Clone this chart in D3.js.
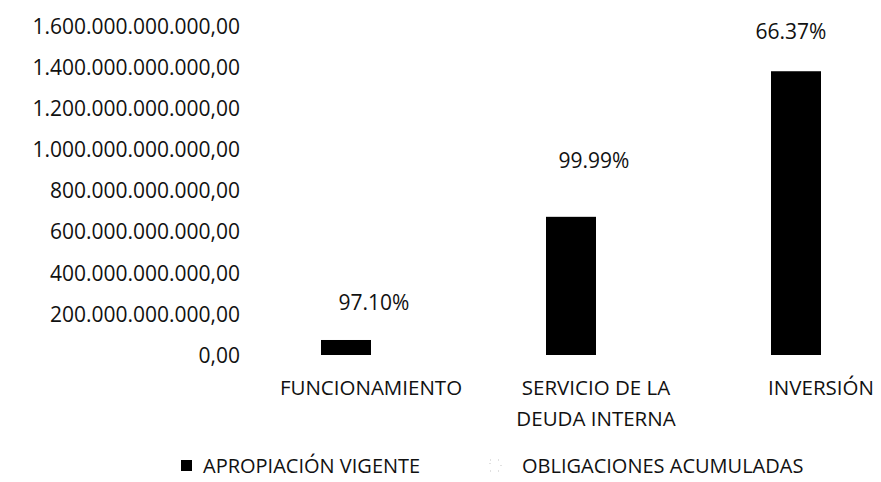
<!DOCTYPE html>
<html>
<head>
<meta charset="utf-8">
<script src="https://cdn.jsdelivr.net/npm/d3@7"></script>
<style>
  body { margin: 0; background: #fff; }
  svg text { font-family: "Open Sans", sans-serif; fill: #111; }
</style>
</head>
<body>
<div id="chart"></div>
<script>
// data
const categories = ["FUNCIONAMIENTO", "SERVICIO DE LA|DEUDA INTERNA", "INVERSIÓN"];
const seriesNames = ["APROPIACIÓN VIGENTE", "OBLIGACIONES ACUMULADAS"];
const apropiacion = [73e9, 672e9, 1380e9];
const obligaciones = [71e9, 672e9, 916e9];
const percentLabels = ["97.10%", "99.99%", "66.37%"];
const yTicks = [0, 2e11, 4e11, 6e11, 8e11, 1e12, 1.2e12, 1.4e12, 1.6e12];

// hand placement of the percent labels in the original (pixels)
const labelLift = [37, 56, 40];
const labelShift = [3, -2, -30];

const width = 881, height = 482;
const margin = { top: 26, bottom: 127, left: 258.5 };

class BudgetBars {
  constructor(element) {
    this.element = element;
    this.draw();
  }

  draw() {
    this.svg = d3.select(this.element).append("svg")
      .attr("width", width)
      .attr("height", height);

    this.createScales();
    this.drawAxis();
    this.drawBars();
    this.drawLabels();
    this.drawLegend();
  }

  createScales() {
    this.x0 = d3.scaleBand()
      .domain(categories)
      .range([margin.left, margin.left + 225 * categories.length])
      .padding(0);

    this.x1 = d3.scaleBand()
      .domain(seriesNames)
      .range([0, this.x0.bandwidth()])
      .paddingInner(0)
      .paddingOuter(1.25);

    this.y = d3.scaleLinear()
      .domain([0, 1.6e12])
      .range([height - margin.bottom, margin.top]);
  }

  drawAxis() {
    const fmt = (v) => {
      const s = d3.format(",.2f")(v);
      return s.replace(/,/g, "#").replace(".", ",").replace(/#/g, ".");
    };
    const yAxis = d3.axisLeft(this.y).tickValues(yTicks).tickFormat(fmt).tickSize(0).tickPadding(0);
    const g = this.svg.append("g")
      .attr("transform", "translate(240,0)")
      .call(yAxis);
    g.select(".domain").remove();
    g.selectAll("text")
      .attr("font-size", "21px")
      .attr("dy", "0.35em")
      .style("font-family", "'Open Sans', sans-serif")
      .attr("fill", "#111");

    // category labels
    const cat = this.svg.append("g");
    categories.forEach((c) => {
      const cx = this.x0(c) + this.x0.bandwidth() / 2;
      const t = cat.append("text")
        .attr("y", 388)
        .attr("text-anchor", "middle")
        .attr("font-size", "20.5px");
      c.split("|").forEach((l, i) => {
        t.append("tspan")
          .attr("x", cx)
          .attr("dy", i === 0 ? "0.35em" : 31)
          .text(l);
      });
    });
  }

  drawBars() {
    const rows = categories.map((c, i) => ({
      cat: c,
      vals: [
        { name: seriesNames[0], v: apropiacion[i] },
        { name: seriesNames[1], v: obligaciones[i] }
      ]
    }));

    const groups = this.svg.append("g")
      .selectAll("g")
      .data(rows)
      .join("g")
      .attr("transform", (d) => `translate(${this.x0(d.cat)},0)`);

    // second series is printed white (invisible) in the original
    groups.selectAll("rect")
      .data((d) => d.vals)
      .join("rect")
      .attr("x", (d) => this.x1(d.name))
      .attr("width", this.x1.bandwidth())
      .attr("y", (d) => this.y(d.v))
      .attr("height", (d) => this.y(0) - this.y(d.v))
      .attr("fill", (d, i) => (i === 0 ? "#000" : "#fff"));
  }

  drawLabels() {
    this.svg.append("g")
      .selectAll("text")
      .data(categories)
      .join("text")
      .attr("x", (d, i) => this.x0(d) + this.x0.bandwidth() / 2 + labelShift[i])
      .attr("y", (d, i) => this.y(Math.max(apropiacion[i], obligaciones[i])) - labelLift[i])
      .attr("dy", "0.35em")
      .attr("text-anchor", "middle")
      .attr("font-size", "21px")
      .text((d, i) => percentLabels[i]);
  }

  drawLegend() {
    const lg = this.svg.append("g").attr("transform", "translate(0,466)");
    lg.append("rect")
      .attr("x", 181).attr("y", -6).attr("width", 11).attr("height", 11)
      .attr("fill", "#000");
    lg.append("text")
      .attr("x", 203).attr("dy", "0.35em")
      .attr("font-size", "20px")
      .text(seriesNames[0]);
    lg.append("rect")
      .attr("x", 490).attr("y", -6).attr("width", 11).attr("height", 11)
      .attr("fill", "#fff")
      .attr("stroke", "#aaa")
      .attr("stroke-width", 0.7)
      .attr("stroke-dasharray", "1,7");
    lg.append("text")
      .attr("x", 522).attr("dy", "0.35em")
      .attr("font-size", "20px")
      .text(seriesNames[1]);
  }
}

new BudgetBars(document.getElementById("chart"));
</script>
</body>
</html>
